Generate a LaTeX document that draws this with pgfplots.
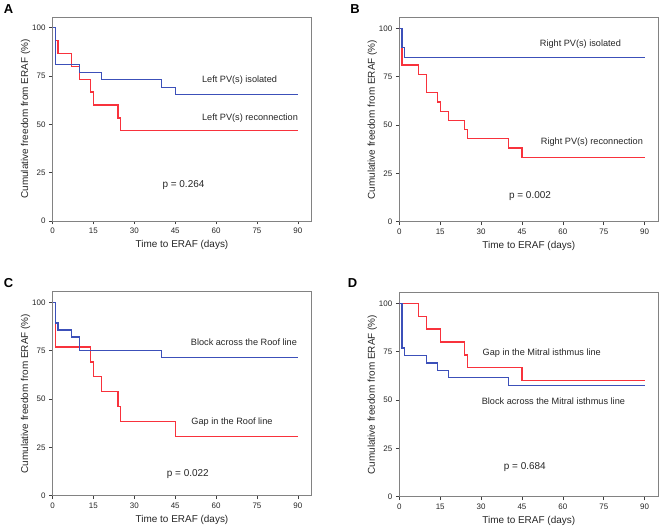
\documentclass[border=0pt]{standalone}
\usepackage{fontspec}
\setmainfont{Liberation Sans}
\usepackage{pgfplots}
\pgfplotsset{compat=1.18}
\definecolor{kmblue}{RGB}{60,80,185}
\definecolor{kmred}{RGB}{248,50,60}
\definecolor{kmframe}{RGB}{130,130,130}
\pgfplotsset{
  km/.style={
    scale only axis, width=259bp, height=204bp,
    xmin=0, xmax=95, ymin=0, ymax=105.5,
    xtick={0,15,30,45,60,75,90}, ytick={0,25,50,75,100},
    axis line style={kmframe, line width=0.9bp},
    tick align=outside, xtick pos=left, ytick pos=left,
    major tick length=3.5bp,
    tick style={black!75, line width=0.6bp},
    /pgf/number format/assume math mode=true,
    ticklabel style={font=\fontsize{8}{9}\selectfont, text=black!85},
    label style={font=\fontsize{10}{12}\selectfont, text=black!85},
    xlabel={Time to ERAF (days)},
    ylabel={Cumulative freedom from ERAF (\%)},
    xlabel style={at={(axis description cs:0.5,-0.118)}, anchor=center},
    ylabel style={at={(axis description cs:-0.104,0.5)}, anchor=center},
    anchor=origin,
  },
  bl/.style={const plot, color=kmblue, line width=1.25bp, mark=none},
  rd/.style={const plot, color=kmred, line width=1.25bp, mark=none},
}
\newcommand{\ann}[3]{\node[anchor=west, inner sep=0pt, font=\fontsize{9.2}{11}\selectfont, text=black!85] at (axis cs:#1,#2) {#3};}
\newcommand{\pval}[3]{\node[anchor=west, inner sep=0pt, font=\fontsize{10}{12}\selectfont, text=black!85] at (axis cs:#1,#2) {#3};}
\begin{document}
\begin{tikzpicture}
\useasboundingbox (0bp,0bp) rectangle (660bp,528bp);
% Panel labels
\node[font=\fontsize{13}{14}\bfseries\selectfont] at (8.5bp,518.5bp) {A};
\node[font=\fontsize{13}{14}\bfseries\selectfont] at (355bp,518.5bp) {B};
\node[font=\fontsize{13}{14}\bfseries\selectfont] at (8.5bp,244.5bp) {C};
\node[font=\fontsize{13}{14}\bfseries\selectfont] at (352.5bp,244.5bp) {D};

% A
\begin{axis}[km, at={(52.5bp,307bp)}]
\addplot[rd] coordinates {(0,100) (1,93.3) (2,86.7) (7,80) (10,73.3) (14,66.7) (15,60) (24,53.3) (25,46.7) (90,46.7)};
\addplot[bl] coordinates {(0,100) (1,80.8) (10,76.9) (18,73.1) (40,69.2) (45,65.4) (90,65.4)};
\ann{54.8}{73}{Left PV(s) isolated}
\ann{54.8}{53.1}{Left PV(s) reconnection}
\pval{40.3}{18.6}{p = 0.264}
\end{axis}

% B
\begin{axis}[km, at={(399.3bp,306.3bp)}]
\addplot[rd] coordinates {(0,100) (1,81) (7,76.2) (10,66.7) (14,61.9) (15,57.1) (18,52.4) (24,47.6) (25,42.9) (40,38.1) (45,33.3) (90,33.3)};
\addplot[bl] coordinates {(0,100) (1,90) (2,85) (90,85)};
\ann{51.5}{91.7}{Right PV(s) isolated}
\ann{51.9}{41.4}{Right PV(s) reconnection}
\pval{40.2}{13.3}{p = 0.002}
\end{axis}

% C
\begin{axis}[km, at={(52.5bp,32.3bp)}]
\addplot[rd] coordinates {(0,100) (1,76.9) (14,69.2) (15,61.5) (18,53.8) (24,46.2) (25,38.5) (45,30.8) (90,30.8)};
\addplot[bl] coordinates {(0,100) (1,89.3) (2,85.7) (7,82.1) (10,75) (40,71.4) (90,71.4)};
\ann{50.7}{79.3}{Block across the Roof line}
\ann{50.9}{38.3}{Gap in the Roof line}
\pval{41.9}{11.2}{p = 0.022}
\end{axis}

% D
\begin{axis}[km, at={(399.3bp,31.3bp)}]
\addplot[rd] coordinates {(0,100) (7,93.3) (10,86.7) (15,80) (24,73.3) (25,66.7) (45,60) (90,60)};
\addplot[bl] coordinates {(0,100) (1,76.9) (2,73.1) (10,69.2) (14,65.4) (18,61.5) (40,57.7) (90,57.7)};
\ann{30.5}{74.3}{Gap in the Mitral isthmus line}
\ann{30.2}{49.3}{Block across the Mitral isthmus line}
\pval{38.3}{15.5}{p = 0.684}
\end{axis}
\end{tikzpicture}
\end{document}
